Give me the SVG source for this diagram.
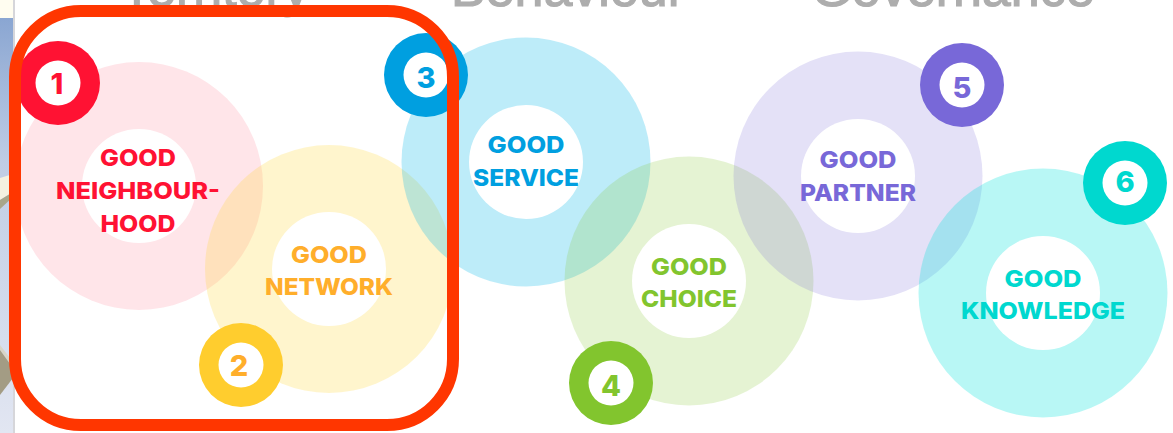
<svg xmlns="http://www.w3.org/2000/svg" width="1173" height="433" viewBox="0 0 1173 433">
<style>
text{font-family:"Inter","Liberation Sans",sans-serif;font-weight:800;text-anchor:middle}
.h{font-family:"Liberation Sans",Arial,sans-serif;font-weight:400;font-size:52px;fill:#adadad;stroke:#adadad;stroke-width:1.2px}
.l{font-size:23.5px}
.d{font-size:29px}
.w{fill:#fff}
.r{fill:#ff1233}.y{fill:#ffae2b}.b{fill:#009fe0}.g{fill:#82c52e}.p{fill:#7868d8}.t{fill:#00d8cf}
</style>
<defs>
<linearGradient id="sky" x1="0" y1="0" x2="0" y2="1">
<stop offset="0" stop-color="#8aa6d2"/><stop offset="0.35" stop-color="#c0cde4"/><stop offset="1" stop-color="#e2e6f2"/>
</linearGradient>
</defs>
<rect width="1173" height="433" fill="#fff"/>
<g id="photo-strip">
<rect x="0" y="0" width="13" height="18" fill="#fffdf0"/>
<rect x="0" y="18" width="13" height="415" fill="url(#sky)"/>
<polygon points="0,178 13,174 13,192 0,200" fill="#f4f1e0"/>
<polygon points="0,200 13,192 13,197 0,209" fill="#a9a68a"/>
<polygon points="0,345 13,362 13,368 0,350" fill="#d8d5c8"/>
<polygon points="0,350 13,368 13,378 0,395" fill="#a39c84"/>
<rect x="13" y="0" width="2" height="433" fill="#d6d6da"/>
</g>
<text class="h" x="215" y="6">Territory</text>
<text class="h" x="568" y="6">Behaviour</text>
<text class="h" x="953" y="6">Governance</text>
<g id="node-neighbourhood">
<circle cx="139" cy="186" r="124" fill="#ff1233" fill-opacity=".11"/>
<circle class="w" cx="139" cy="186" r="57"/>
</g>
<g id="node-network">
<circle cx="329" cy="269" r="124" fill="#ffd62e" fill-opacity=".24"/>
<circle class="w" cx="329" cy="269" r="57"/>
</g>
<g id="node-service">
<circle cx="526" cy="162" r="124.5" fill="#00b6e8" fill-opacity=".26"/>
<circle class="w" cx="526" cy="162" r="57"/>
</g>
<g id="node-choice">
<circle cx="689" cy="281" r="124.5" fill="#82c52e" fill-opacity=".21"/>
<circle class="w" cx="689" cy="281" r="57"/>
</g>
<g id="node-partner">
<circle cx="858" cy="176" r="124.5" fill="#7868d8" fill-opacity=".2"/>
<circle class="w" cx="858" cy="176" r="57"/>
</g>
<g id="node-knowledge">
<circle cx="1043" cy="293" r="124.5" fill="#00e4dc" fill-opacity=".28"/>
<circle class="w" cx="1043" cy="293" r="57"/>
</g>
<g id="labels">
<text class="l r" x="138" y="166" textLength="76" lengthAdjust="spacingAndGlyphs">GOOD</text>
<text class="l r" x="138" y="199" textLength="164" lengthAdjust="spacingAndGlyphs">NEIGHBOUR-</text>
<text class="l r" x="138" y="232" textLength="75" lengthAdjust="spacingAndGlyphs">HOOD</text>
<text class="l y" x="329" y="263" textLength="76" lengthAdjust="spacingAndGlyphs">GOOD</text>
<text class="l y" x="329" y="295" textLength="128" lengthAdjust="spacingAndGlyphs">NETWORK</text>
<text class="l b" x="526" y="153" textLength="77" lengthAdjust="spacingAndGlyphs">GOOD</text>
<text class="l b" x="526" y="186" textLength="106" lengthAdjust="spacingAndGlyphs">SERVICE</text>
<text class="l g" x="689" y="275" textLength="76" lengthAdjust="spacingAndGlyphs">GOOD</text>
<text class="l g" x="689" y="307" textLength="96" lengthAdjust="spacingAndGlyphs">CHOICE</text>
<text class="l p" x="858" y="168" textLength="77" lengthAdjust="spacingAndGlyphs">GOOD</text>
<text class="l p" x="858" y="201" textLength="116" lengthAdjust="spacingAndGlyphs">PARTNER</text>
<text class="l t" x="1043" y="287" textLength="77" lengthAdjust="spacingAndGlyphs">GOOD</text>
<text class="l t" x="1043" y="319" textLength="164" lengthAdjust="spacingAndGlyphs">KNOWLEDGE</text>
</g>
<g id="badge-1"><circle class="r" cx="58" cy="83" r="42"/><circle class="w" cx="58" cy="83" r="22.5"/><text class="d r" x="57" y="94">1</text></g>
<g id="badge-2"><circle cx="241" cy="365" r="42" fill="#ffcd2e"/><circle class="w" cx="241" cy="365" r="22.5"/><text class="d y" x="239" y="376">2</text></g>
<g id="badge-3"><circle class="b" cx="426" cy="75" r="42"/><circle class="w" cx="426" cy="75" r="22.5"/><text class="d b" x="426" y="88">3</text></g>
<g id="badge-4"><circle class="g" cx="611" cy="383" r="42"/><circle class="w" cx="611" cy="383" r="22.5"/><text class="d g" x="611" y="396">4</text></g>
<g id="badge-5"><circle class="p" cx="962" cy="85" r="42"/><circle class="w" cx="962" cy="85" r="22.5"/><text class="d p" x="962" y="98">5</text></g>
<g id="badge-6"><circle class="t" cx="1125" cy="183" r="42"/><circle class="w" cx="1125" cy="183" r="22.5"/><text class="d t" x="1125" y="192">6</text></g>
<rect id="highlight" x="15" y="11" width="438" height="414" rx="66" ry="66" fill="none" stroke="#ff3600" stroke-width="12"/>
</svg>
